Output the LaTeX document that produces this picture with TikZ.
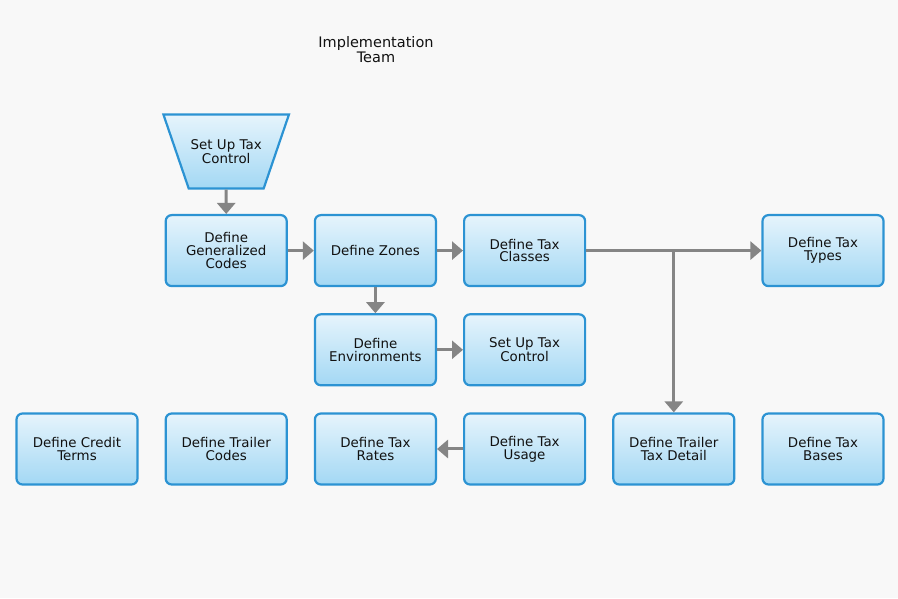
\documentclass[tikz,border=0pt]{standalone}
\usepackage{fontspec}
\setmainfont{DejaVu Sans}
\usetikzlibrary{arrows.meta,positioning,shapes.geometric}
\definecolor{boxedge}{HTML}{2C93D3}
\definecolor{boxtop}{HTML}{E6F4FC}
\definecolor{boxbottom}{HTML}{A3D8F4}
\definecolor{flowgray}{HTML}{858585}
\definecolor{ink}{HTML}{111111}
\definecolor{canvas}{HTML}{F8F8F8}
\tikzset{
  tasknode/.style={
    draw=boxedge,
    line width=2.2pt,
    rounded corners=6pt,
    top color=boxtop,
    bottom color=boxbottom,
    align=center,
    minimum width=121pt,
    minimum height=71pt,
    inner sep=2pt,
    text=ink,
    font=\fontsize{13.4}{12.8}\selectfont
  },
  startnode/.style={
    trapezium,
    shape border rotate=180,
    trapezium angle=48,
    trapezium stretches body,
    draw=boxedge,
    line width=2.2pt,
    top color=boxtop,
    bottom color=boxbottom,
    align=center,
    minimum width=118pt,
    minimum height=74pt,
    inner sep=2pt,
    text=ink,
    font=\fontsize{13.4}{12.8}\selectfont
  },
  titlenode/.style={align=center, text=ink, font=\fontsize{14.5}{15}\selectfont},
  flowarrow/.style={-{Triangle[length=11pt,width=18pt]},line width=3pt,draw=flowgray}
}
\begin{document}
\begin{tikzpicture}[node distance=26pt and 26pt]
  \path[use as bounding box, fill=canvas] (0,0) rectangle (898pt,598pt);
  \node[titlenode] (title) at (376pt,548pt) {Implementation\\Team};
  % bottom row
  \node[tasknode] (credit) at (77pt,149pt) {Define Credit\\Terms};
  \node[tasknode, right=of credit] (trailcodes) {Define Trailer\\Codes};
  \node[tasknode, right=of trailcodes] (rates) {Define Tax\\Rates};
  \node[tasknode, right=of rates] (usage) {Define Tax\\Usage};
  \node[tasknode, right=of usage] (trailtax) {Define Trailer\\Tax Detail};
  \node[tasknode, right=of trailtax] (bases) {Define Tax\\Bases};
  % middle and top rows
  \node[tasknode, above=of rates] (envs) {Define\\Environments};
  \node[tasknode, above=of usage] (control) {Set Up Tax\\Control};
  \node[tasknode, above=of envs] (zones) {Define Zones};
  \node[tasknode, left=of zones] (gencodes) {Define\\Generalized\\Codes};
  \node[tasknode, right=of zones] (classes) {Define Tax\\Classes};
  \node[tasknode] (types) at (bases |- classes) {Define Tax\\Types};
  \node[startnode, above=24.4pt of gencodes] (start) {Set Up Tax\\Control};
  \coordinate (branch) at (classes -| trailtax);
  \draw[flowarrow] (start) -- (gencodes);
  \draw[flowarrow] (gencodes) -- (zones);
  \draw[flowarrow] (zones) -- (classes);
  \draw[flowarrow] (classes) -- (types);
  \draw[flowarrow] (branch) -- (trailtax);
  \draw[flowarrow] (zones) -- (envs);
  \draw[flowarrow] (envs) -- (control);
  \draw[flowarrow] (usage) -- (rates);
\end{tikzpicture}
\end{document}
